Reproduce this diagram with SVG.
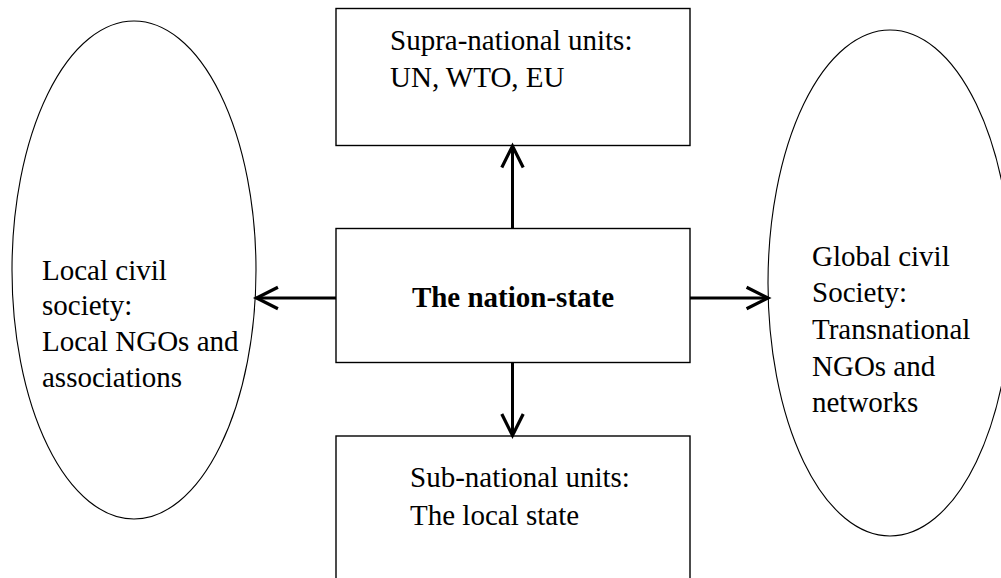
<svg xmlns="http://www.w3.org/2000/svg" width="1001" height="578" viewBox="0 0 1001 578">
  <style>
    .box { fill: #ffffff; stroke: #000000; stroke-width: 1.4; }
    .oval { fill: #ffffff; stroke: #000000; stroke-width: 1.1; }
    .label { font-family: "Liberation Serif", "Times New Roman", serif; font-size: 29px; fill: #000000; }
    .bold { font-weight: bold; }
    .link { stroke: #000000; stroke-width: 3; fill: none; marker-end: url(#head); }
  </style>
  <defs>
    <marker id="head" markerUnits="userSpaceOnUse" markerWidth="30" markerHeight="30" viewBox="-24 -14 28 28" refX="0" refY="0" orient="auto">
      <path d="M -20 -10 L 0 0 L -20 10" fill="none" stroke="#000000" stroke-width="3" stroke-linejoin="miter"/>
    </marker>
  </defs>
  <rect width="1001" height="578" fill="#ffffff"/>

  <!-- Left oval: local civil society -->
  <g id="local-civil-society">
    <ellipse class="oval" cx="134" cy="270" rx="122" ry="249"/>
    <text class="label" x="42" y="280">Local civil</text>
    <text class="label" x="42" y="315">society:</text>
    <text class="label" x="42" y="351">Local NGOs and</text>
    <text class="label" x="42" y="387">associations</text>
  </g>

  <!-- Right oval: global civil society (runs off the right edge) -->
  <g id="global-civil-society">
    <ellipse class="oval" cx="890" cy="283" rx="122" ry="253"/>
    <text class="label" x="812" y="266">Global civil</text>
    <text class="label" x="812" y="302">Society:</text>
    <text class="label" x="812" y="339">Transnational</text>
    <text class="label" x="812" y="376">NGOs and</text>
    <text class="label" x="812" y="412">networks</text>
  </g>

  <!-- Top box -->
  <g id="supra-national">
    <rect class="box" x="336" y="8.5" width="354" height="137"/>
    <text class="label" x="390" y="50">Supra-national units:</text>
    <text class="label" x="390" y="87">UN, WTO, EU</text>
  </g>

  <!-- Centre box -->
  <g id="nation-state">
    <rect class="box" x="336" y="228.5" width="354" height="134"/>
    <text class="label bold" x="513" y="307" text-anchor="middle">The nation-state</text>
  </g>

  <!-- Bottom box (continues past the lower edge) -->
  <g id="sub-national">
    <rect class="box" x="336" y="436" width="354" height="160"/>
    <text class="label" x="410" y="487">Sub-national units:</text>
    <text class="label" x="410" y="525">The local state</text>
  </g>

  <!-- Connectors from the nation-state outwards -->
  <g id="connectors">
    <line class="link" x1="512.5" y1="228.5" x2="512.5" y2="146"/>
    <line class="link" x1="512.5" y1="362.5" x2="512.5" y2="435.5"/>
    <line class="link" x1="336" y1="298" x2="256.5" y2="298"/>
    <line class="link" x1="690" y1="298" x2="768" y2="298"/>
  </g>
</svg>
